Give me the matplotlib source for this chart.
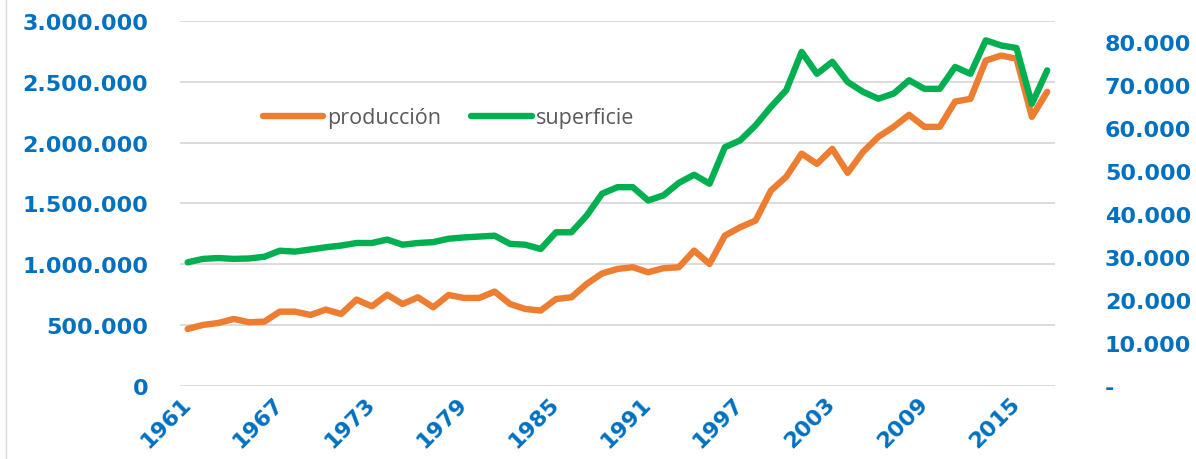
import numpy as np
import matplotlib
matplotlib.use("Agg")
from matplotlib import pyplot as plt
from matplotlib.ticker import FuncFormatter, MultipleLocator
from matplotlib.lines import Line2D

# series anuales 1961-2017
years = np.arange(1961, 2018)

produccion = [
    469000, 502000, 518000, 551000, 524000, 529000, 611000, 611000, 584000, 628000,
    592000, 710000, 655000, 750000, 674000, 729000, 647000, 748000, 724000, 724000,
    776000, 674000, 633000, 620000, 715000, 729000, 839000, 925000, 962000, 976000,
    935000, 968000, 976000, 1113000, 1003000, 1236000, 1305000, 1360000, 1606000, 1720000,
    1910000, 1826000, 1949000, 1752000, 1924000, 2048000, 2130000, 2229000, 2130000, 2130000,
    2338000, 2360000, 2675000, 2716000, 2690000, 2212000, 2418000,
]

superficie = [
    28800, 29600, 29800, 29600, 29700, 30100, 31500, 31300, 31800, 32300,
    32700, 33300, 33300, 34100, 32900, 33300, 33500, 34300, 34600, 34800,
    35000, 33100, 32900, 31900, 35800, 35800, 39700, 44800, 46300, 46300,
    43200, 44400, 47300, 49200, 47100, 55600, 57200, 60700, 65000, 68900,
    77800, 72700, 75500, 70800, 68500, 66900, 68100, 71200, 69200, 69200,
    74300, 72700, 80500, 79300, 78700, 65700, 73500,
]

year_ticks = np.arange(1961, 2018, 6)

naranja = "#ED7D31"
verde = "#00B050"
azul = "#0070C0"


def miles(v, pos):
    return f"{int(round(v)):,}".replace(",", ".")


def miles_guion(v, pos):
    if abs(v) < 1:
        return "-"
    return miles(v, pos)


fig = plt.figure(figsize=(11.96, 4.6), dpi=100)
ax = fig.add_axes([0.1505, 0.1587, 0.7315, 0.7935])
ax2 = ax.twinx()

l1, = ax.plot(years, produccion, color=naranja, lw=4.6, solid_joinstyle="round",
              solid_capstyle="round")
l2, = ax2.plot(years, superficie, color=verde, lw=4.6, solid_joinstyle="round",
               solid_capstyle="round")

ax.set_xlim(1960.5, 2017.5)
ax.set_ylim(0, 3000000)
ax2.set_ylim(0, 85000)
ax.yaxis.set_major_locator(MultipleLocator(500000))
ax2.yaxis.set_major_locator(MultipleLocator(10000))
ax.yaxis.set_major_formatter(FuncFormatter(miles))
ax2.yaxis.set_major_formatter(FuncFormatter(miles_guion))
ax2.set_ylim(0, 85000)

ax.set_xticks(year_ticks)
ax.set_xticklabels([str(y) for y in year_ticks], rotation=45, ha="right",
                   rotation_mode="anchor", va="center")

ax.grid(axis="y", color="#D9D9D9", lw=1.3)
ax.set_axisbelow(True)
for a in (ax, ax2):
    for s in a.spines.values():
        s.set_visible(False)

ax.tick_params(axis="both", length=0)
ax2.tick_params(axis="y", length=0)
ax.tick_params(axis="y", pad=23)
ax2.tick_params(axis="y", pad=36)
ax.tick_params(axis="x", pad=10)

for lab in ax.get_yticklabels() + ax2.get_yticklabels() + ax.get_xticklabels():
    lab.set_color(azul)
    lab.set_fontweight("bold")
    lab.set_fontsize(16)
    lab.set_family("DejaVu Sans")

ax.legend([l1, l2], ["producción", "superficie"], ncol=2, frameon=False,
          loc="center", bbox_to_anchor=(0.307, 0.735),
          prop={"family": "Open Sans", "size": 15.5},
          labelcolor="#595959", handlelength=2.8, handletextpad=0.2,
          columnspacing=1.4)

# borde izquierdo del área del gráfico
fig.add_artist(Line2D([0.005, 0.005], [0.0, 1.0], color="#D9D9D9", lw=1.0))

fig.savefig("out.png", dpi=100)
